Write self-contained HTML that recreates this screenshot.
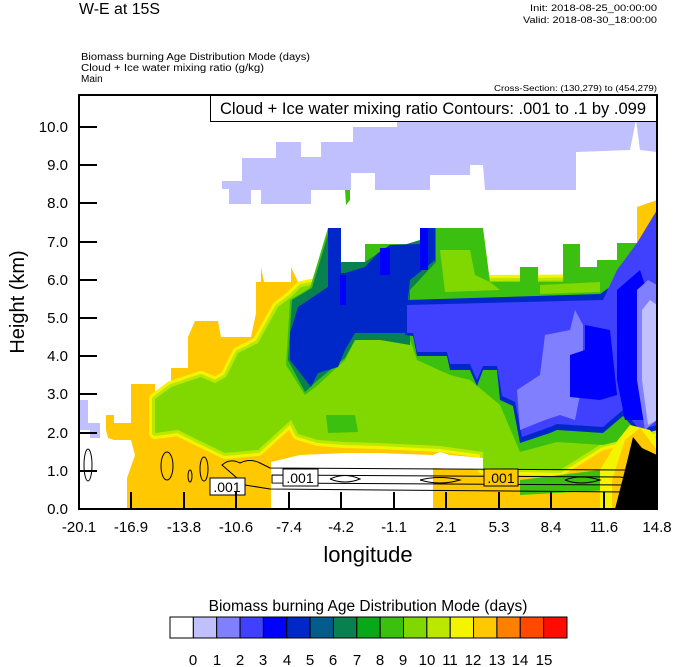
<!DOCTYPE html>
<html><head><meta charset="utf-8"><style>
body{margin:0;background:#fff;}
svg{display:block;font-family:"Liberation Sans",sans-serif;}
</style></head><body>
<svg width="674" height="667" viewBox="0 0 674 667" xmlns="http://www.w3.org/2000/svg">
<rect width="674" height="667" fill="#fff"/>
<text x="79" y="14" font-size="15.5" textLength="81" lengthAdjust="spacingAndGlyphs">W-E at 15S</text>
<text x="657" y="11" font-size="9.5" text-anchor="end" textLength="127" lengthAdjust="spacingAndGlyphs">Init: 2018-08-25_00:00:00</text>
<text x="657" y="23" font-size="9.5" text-anchor="end" textLength="134" lengthAdjust="spacingAndGlyphs">Valid: 2018-08-30_18:00:00</text>
<text x="81" y="60" font-size="10" textLength="229" lengthAdjust="spacingAndGlyphs">Biomass burning Age Distribution Mode   (days)</text>
<text x="81" y="71" font-size="10" textLength="183" lengthAdjust="spacingAndGlyphs">Cloud + Ice water mixing ratio   (g/kg)</text>
<text x="81" y="82" font-size="10">Main</text>
<text x="657" y="91" font-size="8.5" text-anchor="end" textLength="163" lengthAdjust="spacingAndGlyphs">Cross-Section: (130,279) to (454,279)</text>

<clipPath id="c"><rect x="79" y="95" width="578" height="414"/></clipPath>
<g clip-path="url(#c)">
<polygon fill="#c0c0ff" points="222,181 242,181 242,158 276,158 276,142 301,142 301,157 321,157 321,142 353,142 353,127 397,127 397,97 657,97 657,152 640,150 636,120 630,150 576,152 576,190 485,190 483,165 470,165 470,175 430,175 430,190 378,190 375,190 375,173 351,173 351,190 311,190 311,204 261,204 261,190 251,190 251,204 229,204 229,189 222,189"/>
<polygon fill="#3cc010" points="345,190 350,190 350,200 346,205"/>
<polygon fill="#c0c0ff" points="78,400 88,400 88,423 100,423 100,438 90,438 90,430 78,430"/>
<polygon fill="#ffc800" points="106,415 114,415 114,423 131,423 131,384 138,384 155,384 155,399 171,399 171,368 188,368 188,337 195,321 218,321 221,337 251,337 256,313 256,282 261,282 261,267 264,282 291,282 291,267 298,282 325,282 328,228 341,228 341,267 365,267 365,244 420,244 420,228 483,228 490,282 520,282 520,267 538,267 538,282 563,282 563,244 580,244 580,267 597,267 597,260 617,260 617,243 637,243 637,207 657,200 657,509 127,509 127,478 135,455 131,440 114,440 108,438 106,430"/>
<polygon fill="#f4f400" stroke="#f4f400" stroke-width="12" stroke-linejoin="round" points="155,399 171,387 201,377 215,383 226,377 238,353 258,343 278,307 291,297 301,287 326,282 657,280 657,430 600,445 560,470 483,468 483,452 440,446 378,443 345,442 318,440 298,434 291,420 258,450 225,453 198,440 178,430 155,433"/>
<polygon fill="#bce800" stroke="#bce800" stroke-width="6" stroke-linejoin="round" points="155,399 171,387 201,377 215,383 226,377 238,353 258,343 278,307 291,297 301,287 326,282 657,280 657,430 600,445 560,470 483,468 483,452 440,446 378,443 345,442 318,440 298,434 291,420 258,450 225,453 198,440 178,430 155,433"/>
<polygon fill="#80d800" points="155,399 171,387 201,377 215,383 226,377 238,353 258,343 278,307 291,297 301,287 326,282 657,280 657,430 600,445 560,470 483,468 483,452 440,446 378,443 345,442 318,440 298,434 291,420 258,450 225,453 198,440 178,430 155,433"/>
<polygon fill="#3cc010" points="326,415 355,415 358,432 328,433"/>
<polygon fill="#3cc010" points="520,480 600,470 610,490 520,495"/>
<polygon fill="#3cc010" points="328,228 341,228 341,267 365,267 365,244 420,244 420,228 483,228 490,282 520,282 520,267 538,267 538,282 563,282 563,244 580,244 580,267 597,267 597,260 617,260 617,243 637,243 640,440 623,440 603,445 557,442 520,452 500,405 470,380 450,375 417,360 410,340 380,340 355,340 345,360 318,385 305,395 286,365 290,300 310,288"/>
<polygon fill="#80d800" points="440,250 470,250 475,275 490,282 500,290 445,292"/>
<polygon fill="#80d800" points="540,285 600,282 600,292 540,294"/>
<polygon fill="#088050" points="330,228 341,228 341,262 365,262 380,252 420,240 420,228 436,228 436,262 410,290 410,345 380,340 355,340 345,358 318,380 305,392 288,360 292,300 312,288"/>
<polygon fill="#0028c8" points="328,228 341,228 341,273 345,273 365,267 378,253 390,245 420,244 420,228 435,228 435,260 410,280 407,307 407,333 378,333 355,333 345,350 338,367 318,373 311,387 290,360 290,333 298,307 328,287"/>
<polygon fill="#0000ff" points="340,275 346,275 346,305 340,305"/>
<polygon fill="#0000ff" points="420,228 428,228 428,270 420,270"/>
<polygon fill="#0000ff" points="380,248 390,248 390,275 380,275"/>
<polygon fill="#0028c8" points="407,300 600,294 620,280 637,250 657,220 657,430 640,435 623,416 603,433 557,430 550,433 520,443 513,406 500,400 497,370 483,370 477,386 470,370 450,370 447,356 417,356 413,336 405,335"/>
<polygon fill="#4040ff" points="407,305 603,300 617,270 637,243 657,210 657,425 640,430 623,410 603,427 557,424 550,427 522,437 515,402 502,396 497,366 483,366 477,380 470,364 450,364 447,352 417,352 413,333 407,333"/>
<polygon fill="#8080ff" points="520,430 517,390 540,375 545,335 570,330 575,310 583,325 583,380 575,420 560,415 545,420"/>
<polygon fill="#0000ff" points="570,355 585,350 585,325 610,330 617,395 600,400 570,397"/>
<polygon fill="#0000ff" points="617,290 640,270 650,300 645,420 625,420 617,380"/>
<polygon fill="#8080ff" points="637,290 648,280 657,285 657,420 645,430 637,380"/>
<polygon fill="#c0c0ff" points="642,310 650,300 657,305 657,420 648,425 642,380"/>
<polygon fill="#fff" points="271,509 271,462 300,455 345,453 378,453 433,455 440,452 450,455 483,458 483,470 433,468 433,509"/>
<polygon fill="#f4f400" points="600,470 618,440 630,425 650,430 657,440 657,509 600,509"/>
<polygon fill="#ffc800" points="612,480 625,440 640,428 657,450 657,509 612,509"/>
<polygon fill="#000" points="615,509 625,470 633,437 642,448 657,455 657,509"/>
<g fill="none" stroke="#000" stroke-width="1">
<ellipse cx="88" cy="465" rx="4" ry="16"/>
<ellipse cx="167" cy="466" rx="6" ry="14"/>
<ellipse cx="190" cy="476" rx="2" ry="6"/>
<ellipse cx="204" cy="469" rx="4" ry="12"/>
<path d="M222,465 Q230,458 240,463 Q250,458 260,463 L270,468 L625,470 Q640,462 645,480 L625,492 L270,489 L245,485 Z"/>
<path d="M272,475 L620,477 Q632,478 630,485 L272,483 Z"/>
<path d="M330,479 Q345,472 360,479 Q345,485 330,479"/>
<path d="M420,480 Q440,475 460,480 Q440,486 420,480"/>
<path d="M565,480 Q580,474 600,480 Q580,486 565,480"/>
</g>
<rect x="210" y="478" width="35" height="17" fill="#fff" stroke="#000"/>
<text x="227" y="492" font-size="14" text-anchor="middle">.001</text>
<rect x="283" y="469" width="35" height="17" fill="#fff" stroke="#000"/>
<text x="300" y="483" font-size="14" text-anchor="middle">.001</text>
<rect x="484" y="469" width="34" height="17" fill="#ffc800" stroke="#000"/>
<text x="501" y="483" font-size="14" text-anchor="middle">.001</text>
</g>
<rect x="210.5" y="95.5" width="446" height="26" fill="#fff" stroke="#000"/>
<text x="433" y="114" font-size="16.5" text-anchor="middle">Cloud + Ice water mixing ratio Contours: .001 to .1 by .099</text>
<rect x="79" y="95" width="578" height="414" fill="none" stroke="#000" stroke-width="2"/>
<g stroke="#000" stroke-width="2">
<line x1="79" y1="509" x2="97" y2="509"/><line x1="79" y1="471" x2="97" y2="471"/><line x1="79" y1="433" x2="97" y2="433"/><line x1="79" y1="394" x2="97" y2="394"/><line x1="79" y1="356" x2="97" y2="356"/><line x1="79" y1="318" x2="97" y2="318"/><line x1="79" y1="280" x2="97" y2="280"/><line x1="79" y1="242" x2="97" y2="242"/><line x1="79" y1="203" x2="97" y2="203"/><line x1="79" y1="165" x2="97" y2="165"/><line x1="79" y1="127" x2="97" y2="127"/>
<line x1="131" y1="509" x2="131" y2="492"/><line x1="184" y1="509" x2="184" y2="492"/><line x1="236" y1="509" x2="236" y2="492"/><line x1="289" y1="509" x2="289" y2="492"/><line x1="341" y1="509" x2="341" y2="492"/><line x1="394" y1="509" x2="394" y2="492"/><line x1="446" y1="509" x2="446" y2="492"/><line x1="499" y1="509" x2="499" y2="492"/><line x1="551" y1="509" x2="551" y2="492"/><line x1="604" y1="509" x2="604" y2="492"/>
</g>
<g font-size="15" text-anchor="end">
<text x="68" y="514">0.0</text><text x="68" y="476">1.0</text><text x="68" y="438">2.0</text><text x="68" y="399">3.0</text><text x="68" y="361">4.0</text><text x="68" y="323">5.0</text><text x="68" y="285">6.0</text><text x="68" y="247">7.0</text><text x="68" y="208">8.0</text><text x="68" y="170">9.0</text><text x="68" y="132">10.0</text>
</g>
<g font-size="15" text-anchor="middle">
<text x="79" y="532">-20.1</text><text x="131" y="532">-16.9</text><text x="184" y="532">-13.8</text><text x="236" y="532">-10.6</text><text x="289" y="532">-7.4</text><text x="341" y="532">-4.2</text><text x="394" y="532">-1.1</text><text x="446" y="532">2.1</text><text x="499" y="532">5.3</text><text x="551" y="532">8.4</text><text x="604" y="532">11.6</text><text x="657" y="532">14.8</text>
</g>
<text x="368" y="562" font-size="22" text-anchor="middle">longitude</text>
<text transform="translate(24,302) rotate(-90)" font-size="20" text-anchor="middle">Height (km)</text>
<text x="368" y="611" font-size="15.5" text-anchor="middle">Biomass burning Age Distribution Mode  (days)</text>
<g stroke="#000" stroke-width="1">
<rect x="170" y="617" width="23.35" height="21" fill="#ffffff"/>
<rect x="193.35" y="617" width="23.35" height="21" fill="#c0c0ff"/>
<rect x="216.7" y="617" width="23.35" height="21" fill="#8080ff"/>
<rect x="240.05" y="617" width="23.35" height="21" fill="#4040ff"/>
<rect x="263.4" y="617" width="23.35" height="21" fill="#0000ff"/>
<rect x="286.75" y="617" width="23.35" height="21" fill="#0028c8"/>
<rect x="310.1" y="617" width="23.35" height="21" fill="#045c8c"/>
<rect x="333.45" y="617" width="23.35" height="21" fill="#088050"/>
<rect x="356.8" y="617" width="23.35" height="21" fill="#08a818"/>
<rect x="380.15" y="617" width="23.35" height="21" fill="#3cc010"/>
<rect x="403.5" y="617" width="23.35" height="21" fill="#80d800"/>
<rect x="426.85" y="617" width="23.35" height="21" fill="#bce800"/>
<rect x="450.2" y="617" width="23.35" height="21" fill="#f4f400"/>
<rect x="473.55" y="617" width="23.35" height="21" fill="#ffc800"/>
<rect x="496.9" y="617" width="23.35" height="21" fill="#ff8000"/>
<rect x="520.25" y="617" width="23.35" height="21" fill="#ff4800"/>
<rect x="543.6" y="617" width="23.4" height="21" fill="#ff0c00"/>
</g>
<g font-size="15" text-anchor="middle">
<text x="193" y="665">0</text><text x="217" y="665">1</text><text x="240" y="665">2</text><text x="263" y="665">3</text><text x="287" y="665">4</text><text x="310" y="665">5</text><text x="333" y="665">6</text><text x="357" y="665">7</text><text x="380" y="665">8</text><text x="403" y="665">9</text><text x="427" y="665">10</text><text x="450" y="665">11</text><text x="473" y="665">12</text><text x="497" y="665">13</text><text x="520" y="665">14</text><text x="544" y="665">15</text>
</g>
</svg>
</body></html>
